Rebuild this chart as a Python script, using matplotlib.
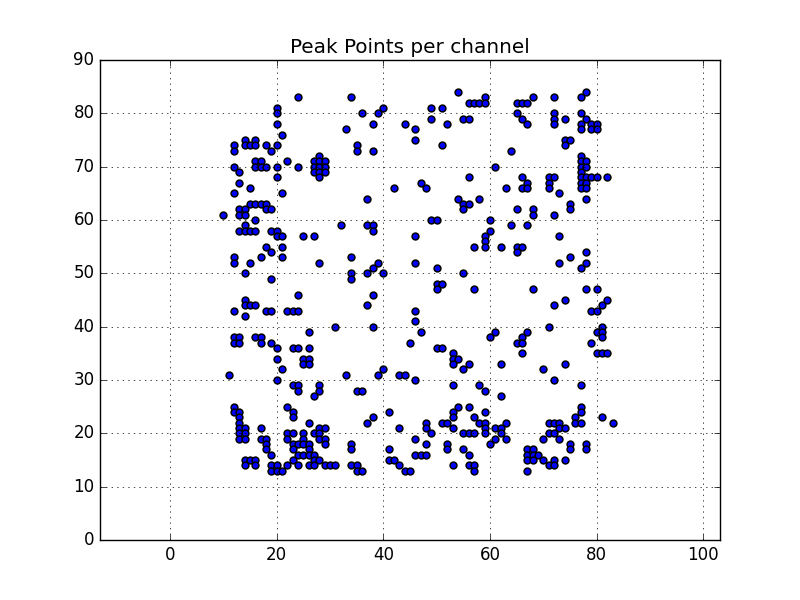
import matplotlib
matplotlib.use('Agg')
import matplotlib.pyplot as plt

plt.style.use('classic')

# peak heights, and the channels that have a peak at each height
levels = [84, 83, 82, 81, 80, 79, 78, 77, 76, 75,
          74, 73, 72, 71, 70, 69, 68, 67, 66, 65,
          64, 63, 62, 61, 60, 59, 58, 57, 56, 55,
          54, 53, 52, 51, 50, 49, 48, 47, 46, 45,
          44, 43, 42, 41, 40, 39, 38, 37, 36, 35,
          34, 33, 32, 31, 30, 29, 28, 27, 25, 24,
          23, 22, 21, 20, 19, 18, 17, 16, 15, 14,
          13]

channels = [
    [54, 78],
    [24, 34, 59, 68, 72, 77],
    [56, 57, 58, 59, 65, 66, 67],
    [20, 40, 49, 51],
    [20, 36, 39, 65, 72, 77],
    [49, 55, 56, 66, 72, 74, 78],
    [20, 38, 44, 52, 67, 72, 77, 79, 80],
    [33, 46, 77, 79, 80],
    [21],
    [14, 16, 46, 74, 75],
    [12, 14, 15, 16, 18, 20, 35, 51, 74],
    [12, 19, 35, 38, 64],
    [28, 77],
    [16, 17, 22, 27, 28, 29, 77, 78],
    [12, 16, 17, 18, 20, 24, 27, 28, 29, 61, 77, 78],
    [13, 27, 28, 29, 77],
    [20, 28, 56, 66, 71, 72, 77, 78, 79, 80, 82],
    [13, 47, 67, 71, 77, 78],
    [15, 42, 48, 63, 66, 67, 71, 77, 78],
    [12, 21, 73],
    [37, 54, 58, 78],
    [15, 16, 17, 18, 55, 56, 75],
    [13, 14, 18, 19, 55, 65, 68, 75],
    [10, 13, 14, 68, 72],
    [16, 49, 50, 60],
    [14, 32, 37, 38, 64, 67],
    [13, 14, 15, 16, 19, 20, 38, 60],
    [20, 21, 25, 27, 46, 59, 73],
    [59],
    [18, 21, 57, 59, 62, 65, 66],
    [19, 65, 78],
    [12, 17, 21, 34, 75],
    [12, 15, 28, 39, 46, 73, 78],
    [38, 50, 77],
    [14, 34, 37, 40, 55],
    [19, 34],
    [50, 51],
    [50, 57, 68, 78, 80],
    [24, 38],
    [14, 74, 82],
    [14, 15, 16, 37, 72, 81],
    [12, 18, 19, 22, 23, 24, 46, 79, 80],
    [14],
    [46],
    [31, 38, 71, 81],
    [26, 47, 61, 67, 80, 81],
    [12, 13, 16, 17, 60, 66, 81],
    [12, 13, 17, 19, 45, 65, 66, 79],
    [20, 23, 24, 26, 50, 51],
    [53, 66, 80, 81, 82],
    [20, 25, 26, 53, 54],
    [25, 26, 53, 56, 62, 74],
    [21, 40, 55, 70],
    [11, 33, 39, 43, 44],
    [20, 46, 72],
    [23, 24, 28, 53, 58, 77],
    [24, 28, 35, 36, 59],
    [27, 62],
    [12, 22, 54, 56, 77],
    [12, 13, 23, 41, 53, 59, 77],
    [13, 23, 38, 53, 57, 76, 81],
    [13, 26, 37, 48, 51, 52, 58, 59, 63, 71, 72, 73, 76, 77, 83],
    [13, 14, 17, 28, 29, 43, 48, 53, 59, 61, 62, 73, 74],
    [13, 14, 22, 23, 25, 27, 28, 49, 55, 56, 57, 59, 62, 71, 72],
    [13, 14, 17, 18, 22, 25, 28, 29, 46, 61, 63, 70, 73],
    [18, 23, 24, 25, 26, 29, 34, 48, 52, 60, 75, 78],
    [18, 23, 26, 34, 41, 52, 55, 67, 68, 75, 78],
    [19, 24, 25, 26, 27, 46, 47, 48, 56, 67, 68, 69],
    [14, 15, 16, 23, 27, 28, 41, 42, 67, 68, 70, 72, 74],
    [14, 16, 19, 20, 22, 24, 26, 27, 29, 30, 31, 34, 35, 43, 53, 56, 57, 71, 72],
    [19, 20, 21, 35, 36, 44, 45, 57, 67],
]

xs = []
ys = []
for level, row in zip(levels, channels):
    xs += row
    ys += [level] * len(row)

fig, ax = plt.subplots(figsize=(8, 6))
ax.scatter(xs, ys, s=24, linewidths=1.1)
ax.set_title('Peak Points per channel', pad=5.3)
ax.set_xlim(-13.125, 103.125)
ax.set_ylim(0, 90)
ax.grid(True)
fig.savefig('out.png', dpi=100)
